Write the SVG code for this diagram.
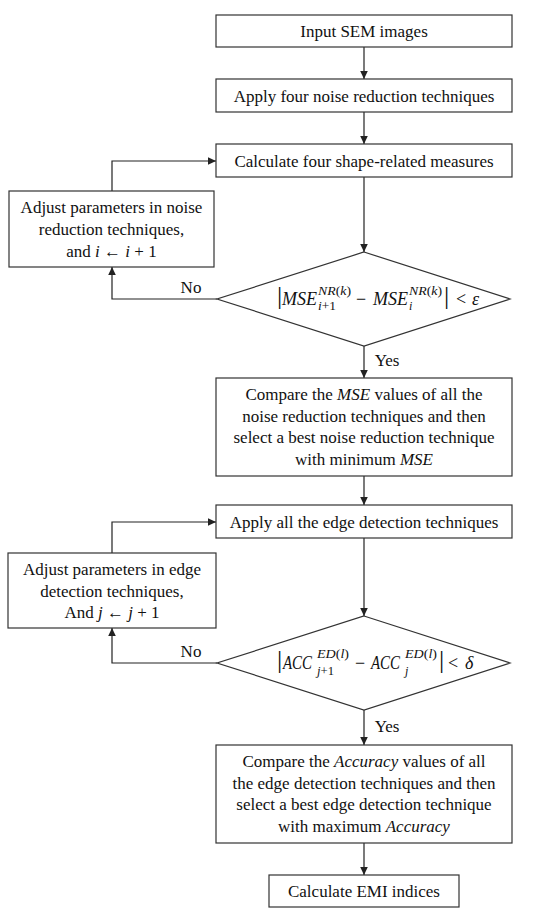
<svg xmlns="http://www.w3.org/2000/svg" width="550" height="919" viewBox="0 0 550 919">
<defs>
<marker id="ah" markerWidth="10" markerHeight="10" refX="8" refY="5" orient="auto" markerUnits="userSpaceOnUse">
<path d="M0,1.2 L8,5 L0,8.8 Z" fill="#222"/>
</marker>
<style>
.box{fill:#fff;stroke:#333;stroke-width:1.2}
.t{font-family:"Liberation Serif","Times New Roman",serif;font-size:17px;fill:#111;text-anchor:middle}
.f{font-family:"Liberation Serif","Times New Roman",serif;font-size:18px;fill:#111}
.m{font-style:italic;font-size:18px}
.s{font-style:italic;font-size:12px}
.n{font-style:normal}
.u{font-style:normal;font-size:18px}
.bar{font-style:normal;font-size:26px}
.i{font-style:italic}
.c{fill:none;stroke:#222;stroke-width:1.2}
</style>
</defs>
<rect width="550" height="919" fill="#fff"/>
<g id="connectors">
<path class="c" d="M364,47 V79" marker-end="url(#ah)"/>
<path class="c" d="M364,112 V144" marker-end="url(#ah)"/>
<path class="c" d="M364,177 V252" marker-end="url(#ah)"/>
<path class="c" d="M364,346 V378" marker-end="url(#ah)"/>
<path class="c" d="M364,476 V505" marker-end="url(#ah)"/>
<path class="c" d="M364,538 V616" marker-end="url(#ah)"/>
<path class="c" d="M364,710 V745" marker-end="url(#ah)"/>
<path class="c" d="M364,843 V875" marker-end="url(#ah)"/>
<path class="c" d="M217,299 H112 V267" marker-end="url(#ah)"/>
<path class="c" d="M112,191 V161 H216" marker-end="url(#ah)"/>
<path class="c" d="M217,663 H112 V628" marker-end="url(#ah)"/>
<path class="c" d="M112,553 V522 H216" marker-end="url(#ah)"/>
<text class="t" x="191" y="293">No</text>
<text class="t" x="387" y="366">Yes</text>
<text class="t" x="191" y="657">No</text>
<text class="t" x="387" y="732">Yes</text>
</g>
<g id="input">
<rect class="box" x="216" y="15" width="296" height="32"/>
<text class="t" x="364" y="37">Input SEM images</text>
</g>
<g id="apply-nr">
<rect class="box" x="216" y="79" width="296" height="33"/>
<text class="t" x="364" y="101.5">Apply four noise reduction techniques</text>
</g>
<g id="calc-shape">
<rect class="box" x="216" y="144" width="296" height="33"/>
<text class="t" x="364" y="166.5">Calculate four shape-related measures</text>
</g>
<g id="adjust-nr">
<rect class="box" x="9" y="191" width="205" height="76"/>
<text class="t" x="111.5" y="213">Adjust parameters in noise</text>
<text class="t" x="111.5" y="235">reduction techniques,</text>
<text class="t" x="111.5" y="257">and <tspan class="i">i</tspan> ← <tspan class="i">i</tspan> + 1</text>
</g>
<g id="decision-mse">
<polygon class="box" points="364,252 510,299 364,346 217,299"/>
<text class="f"><tspan class="bar" x="277" y="304">|</tspan><tspan class="m" x="282" y="305" textLength="35" lengthAdjust="spacingAndGlyphs">MSE</tspan><tspan class="s" x="318" y="295" textLength="33" lengthAdjust="spacingAndGlyphs">NR<tspan class="n">(</tspan>k<tspan class="n">)</tspan></tspan><tspan class="s" x="318" y="310" textLength="18" lengthAdjust="spacingAndGlyphs">i<tspan class="n">+1</tspan></tspan><tspan class="u" x="356" y="305">−</tspan><tspan class="m" x="373" y="305" textLength="35" lengthAdjust="spacingAndGlyphs">MSE</tspan><tspan class="s" x="409" y="295" textLength="33" lengthAdjust="spacingAndGlyphs">NR<tspan class="n">(</tspan>k<tspan class="n">)</tspan></tspan><tspan class="s" x="409" y="310">i</tspan><tspan class="bar" x="444" y="304">|</tspan><tspan class="u" x="456" y="305">&lt;</tspan><tspan class="m" x="472" y="305">ε</tspan></text>
</g>
<g id="compare-mse">
<rect class="box" x="216" y="378" width="296" height="98"/>
<text class="t" x="364" y="400">Compare the <tspan class="i">MSE</tspan> values of all the</text>
<text class="t" x="364" y="422">noise reduction techniques and then</text>
<text class="t" x="364" y="443">select a best noise reduction technique</text>
<text class="t" x="364" y="465">with minimum  <tspan class="i">MSE</tspan></text>
</g>
<g id="apply-ed">
<rect class="box" x="216" y="505" width="296" height="33"/>
<text class="t" x="364" y="527.5">Apply all the edge detection techniques</text>
</g>
<g id="adjust-ed">
<rect class="box" x="8" y="553" width="208" height="75"/>
<text class="t" x="112" y="575">Adjust parameters in edge</text>
<text class="t" x="112" y="597">detection techniques,</text>
<text class="t" x="112" y="618">And <tspan class="i">j</tspan> ← <tspan class="i">j</tspan> + 1</text>
</g>
<g id="decision-acc">
<polygon class="box" points="364,616 510,663 364,710 217,663"/>
<text class="f"><tspan class="bar" x="277" y="668">|</tspan><tspan class="m" x="283" y="669" textLength="29" lengthAdjust="spacingAndGlyphs">ACC</tspan><tspan class="s" x="317" y="658" textLength="32" lengthAdjust="spacingAndGlyphs">ED<tspan class="n">(</tspan>l<tspan class="n">)</tspan></tspan><tspan class="s" x="317" y="675" textLength="17" lengthAdjust="spacingAndGlyphs">j<tspan class="n">+1</tspan></tspan><tspan class="u" x="355" y="669">−</tspan><tspan class="m" x="371" y="669" textLength="29" lengthAdjust="spacingAndGlyphs">ACC</tspan><tspan class="s" x="405" y="658" textLength="32" lengthAdjust="spacingAndGlyphs">ED<tspan class="n">(</tspan>l<tspan class="n">)</tspan></tspan><tspan class="s" x="405" y="675">j</tspan><tspan class="bar" x="439" y="668">|</tspan><tspan class="u" x="448" y="669">&lt;</tspan><tspan class="m" x="465" y="669">δ</tspan></text>
</g>
<g id="compare-acc">
<rect class="box" x="216" y="745" width="296" height="98"/>
<text class="t" x="364" y="767">Compare the <tspan class="i">Accuracy</tspan> values of all</text>
<text class="t" x="364" y="789">the edge detection techniques and then</text>
<text class="t" x="364" y="810">select a best edge detection technique</text>
<text class="t" x="364" y="832">with maximum  <tspan class="i">Accuracy</tspan></text>
</g>
<g id="calc-emi">
<rect class="box" x="269" y="875" width="190" height="32"/>
<text class="t" x="364" y="897">Calculate EMI indices</text>
</g>
</svg>
